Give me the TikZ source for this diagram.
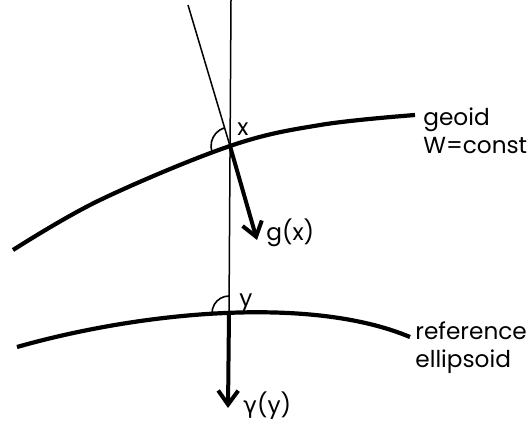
\documentclass[tikz,border=0pt]{standalone}
\usepackage{fontspec}
\setmainfont{Poppins}
\newfontfamily\greekfont{DejaVu Sans}
\usetikzlibrary{arrows.meta,positioning,calc}

\tikzset{
  thinline/.style={line width=0.75pt},
  surface/.style={line width=2.1pt},
  vector/.style={line width=2pt,-{Straight Barb[length=7pt,width=10pt,line width=2pt]}},
  anglemark/.style={line width=0.8pt},
  lbl/.style={inner sep=0pt,anchor=base west,font=\fontsize{11.6}{14}\selectfont}
}

\begin{document}
\begin{tikzpicture}[x=0.5pt,y=-0.5pt]
\useasboundingbox (0,0) rectangle (528,423);

\coordinate (Vtop) at (231,0);
\coordinate (Ttop) at (188,5);
\coordinate (X) at (230,146);
\coordinate (Y) at (229,313);
\coordinate (G) at (257,240);
\coordinate (Gam) at (228,408);

% geoid and ellipsoid
\draw[surface] plot[smooth,tension=0.6] coordinates {(13,250) (100,200) (X) (320,125) (415,115)};
\draw[surface] (17,347) .. controls (140,312) and (310,295) .. (410,337);

% plumb line and normal
\draw[thinline] (Vtop) -- (Y);
\draw[thinline] (Ttop) -- (X);

% gravity vectors
\draw[vector] (X) -- (G);
\draw[vector] (Y) -- (Gam);

% angles
\draw[anglemark] ($(X)+(-106.6:19)$) arc[start angle=-106.6,end angle=-200,radius=19];
\draw[anglemark] ($(Y)+(0,-17)$) arc[start angle=-90,end angle=-185,radius=17];

% labels
\node[lbl] (xl) at (237,135) {x};
\node[lbl] (gl) at (266,240) {g(x)};
\node[lbl] (yl) at (239,306) {y};
\node[lbl] (gaml) at (243,413) {{\greekfont γ}(y)};
\node[lbl,align=left] (geoidl) at (423,153) {geoid\\W=const};
\node[lbl,align=left] (ellipl) at (415,367) {reference\\ellipsoid};
\end{tikzpicture}
\end{document}
